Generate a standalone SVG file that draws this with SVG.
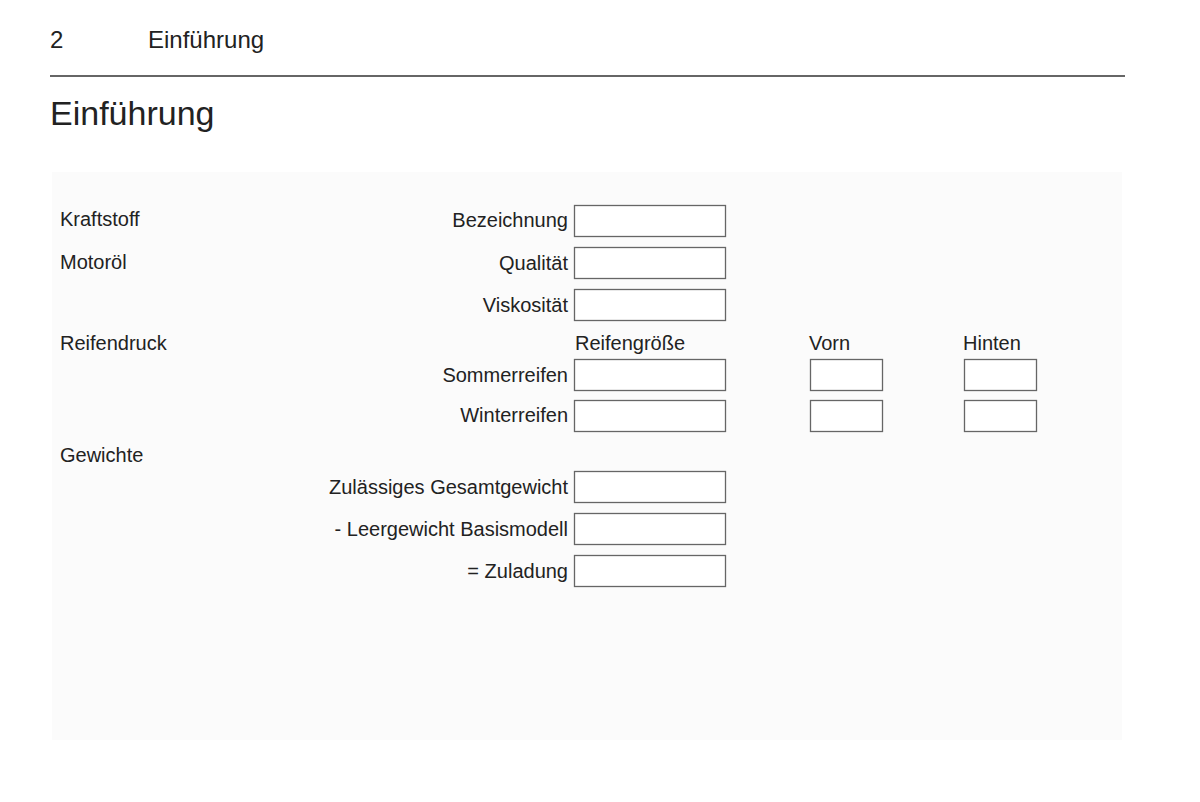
<svg xmlns="http://www.w3.org/2000/svg" width="1200" height="802" viewBox="0 0 1200 802">
<style>
text{font-family:"Liberation Sans",Arial,sans-serif;fill:#222}
.l{font-size:20px}
.r{font-size:20px;text-anchor:end}
.b{fill:#fff;stroke:#666;stroke-width:1.3}
</style>
<rect width="1200" height="802" fill="#fff"/>
<text x="50" y="48" font-size="24">2</text>
<text x="148" y="48" font-size="24">Einführung</text>
<line x1="50" y1="76" x2="1125" y2="76" stroke="#333" stroke-width="1.3"/>
<text x="50" y="125" font-size="34">Einführung</text>
<rect x="52" y="172" width="1070" height="568" fill="#fbfbfb"/>
<g id="labels">
<text class="l" x="60" y="226">Kraftstoff</text>
<text class="l" x="60" y="269">Motoröl</text>
<text class="l" x="60" y="350">Reifendruck</text>
<text class="l" x="60" y="462">Gewichte</text>
<text class="l" x="575" y="350">Reifengröße</text>
<text class="l" x="809" y="350">Vorn</text>
<text class="l" x="963" y="350">Hinten</text>
</g>
<g id="bezeichnung"><text class="r" x="568" y="227">Bezeichnung</text><rect class="b" x="574.5" y="205.5" width="151" height="31"/></g>
<g id="qualitaet"><text class="r" x="568" y="270">Qualität</text><rect class="b" x="574.5" y="247.5" width="151" height="31"/></g>
<g id="viskositaet"><text class="r" x="568" y="312">Viskosität</text><rect class="b" x="574.5" y="289.5" width="151" height="31"/></g>
<g id="sommerreifen"><text class="r" x="568" y="382">Sommerreifen</text><rect class="b" x="574.5" y="359.5" width="151" height="31"/><rect class="b" x="810.5" y="359.5" width="72" height="31"/><rect class="b" x="964.5" y="359.5" width="72" height="31"/></g>
<g id="winterreifen"><text class="r" x="568" y="422">Winterreifen</text><rect class="b" x="574.5" y="400.5" width="151" height="31"/><rect class="b" x="810.5" y="400.5" width="72" height="31"/><rect class="b" x="964.5" y="400.5" width="72" height="31"/></g>
<g id="gesamtgewicht"><text class="r" x="568" y="494">Zulässiges Gesamtgewicht</text><rect class="b" x="574.5" y="471.5" width="151" height="31"/></g>
<g id="leergewicht"><text class="r" x="568" y="536">- Leergewicht Basismodell</text><rect class="b" x="574.5" y="513.5" width="151" height="31"/></g>
<g id="zuladung"><text class="r" x="568" y="578">= Zuladung</text><rect class="b" x="574.5" y="555.5" width="151" height="31"/></g>
<g id="connectors"/>
</svg>
